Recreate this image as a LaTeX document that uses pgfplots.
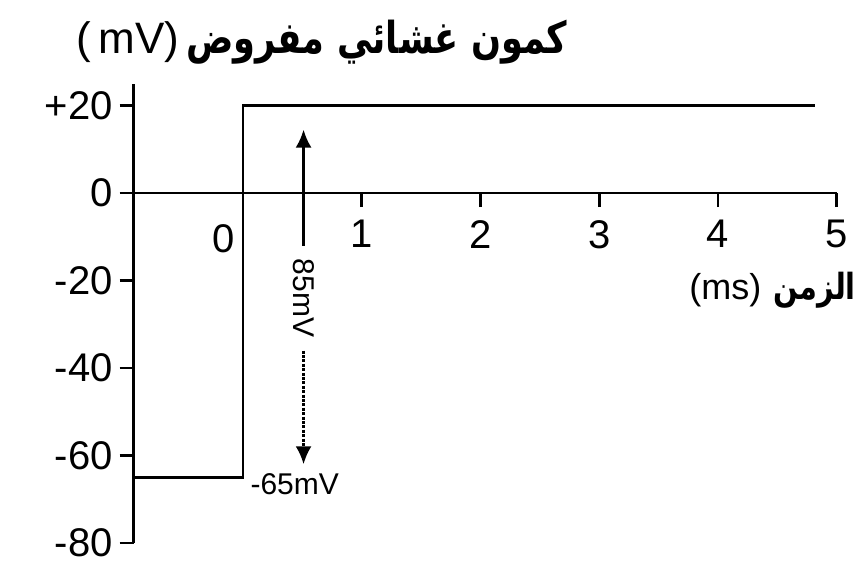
\documentclass[border=0pt]{standalone}
\usepackage{fontspec}
\setmainfont{Liberation Sans}
\newfontfamily\arabicfont[Script=Arabic, FakeStretch=0.8]{DejaVu Sans}
\TeXXeTstate=1
\usepackage{pgfplots}
\pgfplotsset{compat=1.18}
\usetikzlibrary{arrows.meta}

\begin{document}
\begin{tikzpicture}
\begin{axis}[
  x=59.375pt, y=2.1875pt,
  xmin=-0.92, xmax=5, ymin=-80, ymax=25,
  axis x line=middle, axis y line=left,
  axis line style={-, line width=1.4pt},
  every inner x axis line/.append style={-},
  xtick={1,2,3,4,5},
  ytick={-80,-60,-40,-20,0,20},
  yticklabels={-80,-60,-40,-20,0,+20},
  tick align=outside, major tick length=7pt,
  tick style={black, line width=1.4pt},
  tick label style={font=\fontsize{20}{24}\selectfont},
  /pgf/number format/assume math mode=true,
  x tick label style={yshift=-3pt},
  clip=false,
]
\addplot[black, line width=1.4pt] coordinates {(-0.92,-65) (0,-65) (0,20) (4.82,20)};

% 85 mV arrow
\draw[line width=1.3pt, -{Latex[length=9pt,width=8pt]}] (axis cs:0.51,-12) -- (axis cs:0.51,14.5);
\draw[line width=1.3pt, dash pattern=on 1.5pt off 0.7pt, -{Latex[length=9pt,width=8pt]}] (axis cs:0.51,-36) -- (axis cs:0.51,-62);
\node[rotate=-90, font=\fontsize{15}{18}\selectfont, inner sep=1pt] at (axis cs:0.51,-24) {85mV};
\node[anchor=west, font=\fontsize{15}{18}\selectfont, inner sep=0pt] at (axis cs:0.06,-66.5) {-65mV};

% "0" tick label sits left of the step
\node[font=\fontsize{20}{24}\selectfont] at (axis cs:-0.16,-10.5) {0};

% titles
\node[font=\fontsize{22}{26}\selectfont] at (axis cs:0.665,34.5)
  {(\,mV)\,{\arabicfont\bfseries\beginR كمون غشائي مفروض\endR}};
\node[anchor=east, font=\fontsize{18}{22}\selectfont, inner sep=1pt] at (axis cs:5.18,-22.2)
  {(ms)\,\,{\arabicfont\bfseries\beginR الزمن\endR}};

\coordinate (tl) at (axis cs:-2.046,44.11);
\coordinate (br) at (axis cs:5.187,-86.86);
\end{axis}
\pgfresetboundingbox
\path (tl) rectangle (br);
\end{tikzpicture}
\end{document}
